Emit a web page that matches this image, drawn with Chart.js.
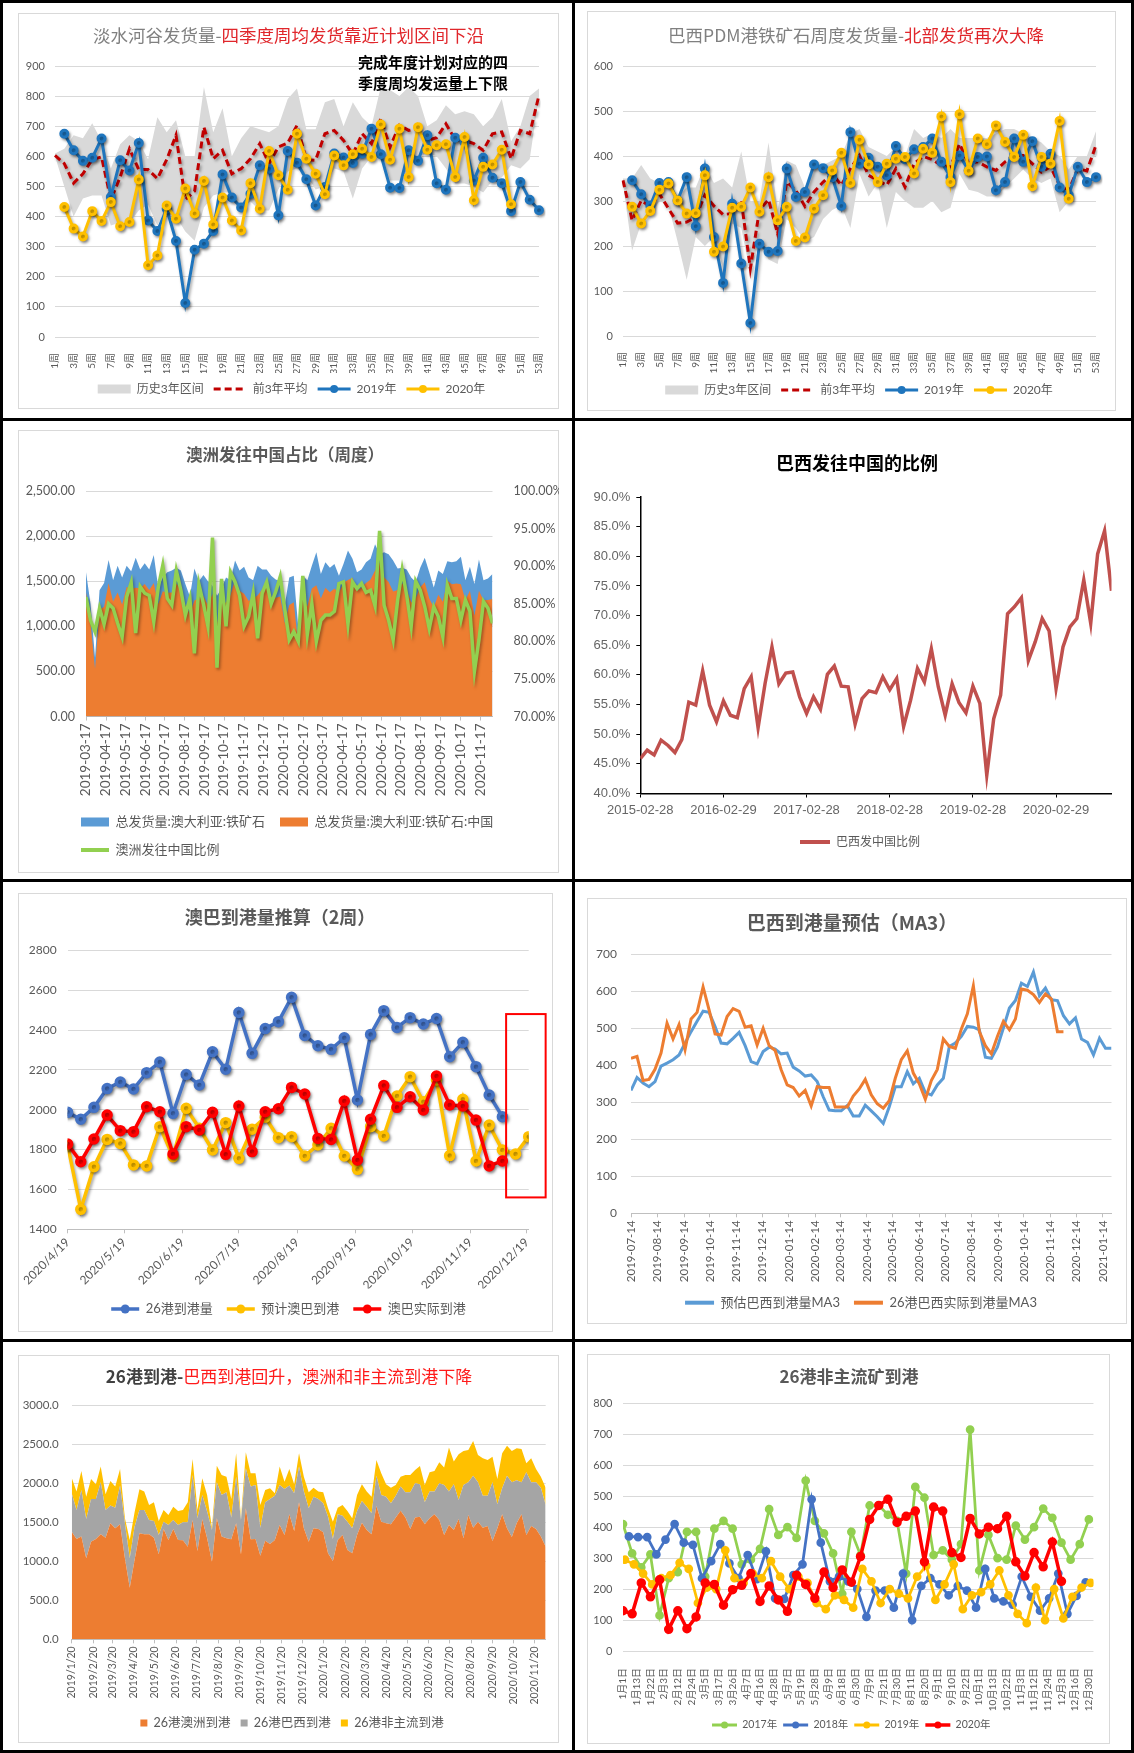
<!DOCTYPE html>
<html lang="zh-CN">
<head>
<meta charset="UTF-8">
<title>铁矿石发运与到港</title>
<script src="https://cdn.jsdelivr.net/npm/chart.js"></script>
<style>
  body { margin: 0; background: #fff; }
  #page { position: relative; width: 1134px; height: 1753px; overflow: hidden; background: #fff; }
  .rule { position: absolute; background: #000; }
  .frame { position: absolute; border: 1px solid #d9d9d9; box-sizing: border-box; }
  canvas { position: absolute; }
</style>
</head>
<body>
<div id="page"></div>
<script>
// ---------- data ----------
// 1. 淡水河谷发货量 (weeks 1..53)
const weekLabels = Array.from({ length: 53 }, (_, i) => (i + 1) + '周');
const valeBandLow = [600,500,400,460,470,470,370,380,380,420,440,370,430,400,350,320,430,470,480,480,430,450,420,420,490,550,560,540,490,500,560,550,460,560,600,620,520,520,560,600,610,600,560,510,510,500,480,520,530,570,560,590,800];
const valeBandHigh = [609,625,670,660,710,650,560,640,670,650,590,730,680,720,600,600,830,680,760,600,660,700,690,680,700,790,825,690,690,780,790,700,780,730,700,830,820,800,830,800,700,720,770,740,750,740,700,730,790,650,700,800,825];
const valeAvg3 = [603,576,511,542,589,598,456,531,625,556,556,526,589,670,456,485,697,592,620,542,559,592,642,576,631,644,703,589,587,675,686,653,607,675,642,725,631,703,686,692,653,662,708,655,653,642,620,675,681,592,686,675,803];
const vale2019 = [null,675,620,585,595,659,465,587,553,644,387,352,426,319,113,290,310,352,540,463,430,476,570,559,404,618,579,524,437,498,609,596,578,609,692,607,496,495,620,585,670,511,489,662,648,520,595,529,511,418,515,456,421];
const vale2020 = [null,432,360,334,418,385,448,368,382,523,238,271,437,393,493,410,518,374,463,387,354,511,426,618,537,489,675,592,542,474,603,570,607,625,598,706,589,692,531,697,622,637,640,531,664,454,565,573,622,441];

// 2. 巴西PDM港铁矿石周度发货量
const pdmBandLow = [340,190,250,270,300,290,210,125,220,200,220,150,250,240,140,210,170,160,260,240,210,220,260,280,290,240,360,310,340,240,320,300,285,285,300,275,285,360,325,320,310,310,330,350,370,350,340,350,275,300,370,360,410];
const pdmBandHigh = [350,350,380,350,340,345,310,330,330,380,340,350,330,410,300,300,430,280,390,380,330,380,380,390,400,450,460,420,410,400,420,400,460,440,450,440,460,440,440,440,440,450,460,460,450,440,430,410,400,370,400,400,455];
const pdmAvg3 = [346,257,301,287,316,283,251,253,264,313,289,270,272,301,150,280,303,227,342,324,288,320,342,361,335,372,401,357,346,335,372,331,383,399,392,379,376,427,383,387,376,368,387,401,401,383,364,376,335,324,372,367,424];
const pdm2019 = [null,346,315,290,340,342,301,353,244,372,220,118,294,161,29,205,187,189,372,309,320,381,373,353,289,453,383,396,376,357,422,393,415,420,439,387,353,401,368,398,399,324,342,439,387,433,376,405,330,313,376,342,353];
const pdm2020 = [null,287,250,278,325,339,301,272,273,357,187,199,285,287,330,276,353,257,287,211,219,283,313,368,407,340,436,381,342,383,394,398,361,416,407,488,342,493,367,439,426,468,431,398,447,333,398,383,478,305];

// 3. 澳洲发往中国占比 (weekly from 2019-03-17)
const ausTotal = [1600,1250,650,1400,1480,1736,1510,1670,1540,1670,1610,1760,1630,1700,1630,1790,1430,1540,1600,1620,1650,1620,1470,1330,1640,1500,1570,1500,1450,1340,1420,1540,1510,1730,1620,1660,1540,1510,1670,1630,1630,1560,1520,1500,1230,1540,1560,990,1560,1510,1670,1820,1580,1710,1650,1690,1560,1690,1840,1750,1600,1630,1710,1750,1910,1800,1820,1800,1730,1640,1650,1630,1540,1490,1650,1760,1600,1430,1620,1580,1720,1710,1720,1770,1510,1660,1470,1740,1510,1530,1580];
const ausChina = [1374,1035,528,1182,1218,1476,1275,1376,1241,1435,1414,1427,1423,1469,1403,1479,1247,1388,1371,1374,1475,1406,1227,1140,1286,1314,1335,1230,1360,1025,1254,1263,1347,1521,1395,1361,1283,1305,1343,1408,1433,1326,1316,1329,1037,1235,1267,792,1384,1221,1420,1456,1308,1428,1378,1420,1368,1486,1514,1538,1392,1430,1479,1519,1618,1705,1543,1490,1387,1402,1477,1403,1263,1311,1432,1489,1307,1210,1349,1273,1505,1465,1474,1466,1291,1394,1117,1395,1288,1291,1302];
const ausShare = [85.9,82.8,81.3,84.4,82.3,85.0,84.4,82.4,80.6,85.9,87.8,81.1,87.3,86.4,86.1,82.6,87.2,90.1,85.7,84.8,89.4,86.8,83.5,85.7,78.4,87.6,85.0,82.0,93.8,76.5,88.3,82.0,89.2,87.9,86.1,82.0,83.3,86.4,80.4,86.4,87.9,85.0,86.6,88.6,84.3,80.2,81.3,80.0,88.7,80.9,85.0,80.0,82.8,83.5,83.5,84.0,87.7,87.9,82.3,87.9,87.0,87.7,86.5,86.8,84.7,94.7,84.8,82.8,80.2,85.5,89.5,86.1,82.0,88.0,86.8,84.6,81.7,84.6,83.3,80.6,87.5,85.7,85.7,82.8,85.5,84.0,76.0,80.2,85.3,84.4,82.4];

// 4. 巴西发往中国的比例 (monthly, month-end from 2015-02)
const brShare = [45.9,47.3,46.5,49.0,48.1,46.9,49.1,55.4,54.9,60.7,54.9,52.1,55.6,53.2,52.8,57.7,59.7,51.1,58.5,64.7,58.5,60.3,60.5,56.3,53.5,56.3,54.2,60.1,61.5,58.1,58.0,51.7,56.0,57.3,57.0,59.7,57.5,59.4,51.3,55.7,61.1,58.8,64.4,58.0,53.2,58.5,55.3,53.6,58.1,55.2,43.1,52.6,56.6,70.3,71.5,73.0,62.4,65.6,69.5,67.4,57.7,64.7,68.1,69.5,76.0,68.7,80.4,84.3,74.2];

// 5. 澳巴到港量推算 (weekly from 2020-04-19)
const port26 = [1987,1952,2012,2106,2139,2104,2186,2239,1982,2177,2124,2291,2203,2488,2283,2407,2442,2564,2373,2321,2303,2361,2049,2378,2497,2413,2462,2430,2458,2266,2338,2216,2074,1965];
const abForecast = [1823,1500,1714,1851,1831,1723,1718,1915,1764,2007,1907,1798,1935,1756,1902,1962,1860,1865,1768,1823,1907,1768,1701,1915,1868,2069,2166,2040,2149,1770,2052,1743,1923,1798,1778,1865];
const abActual = [1828,1739,1853,1973,1895,1890,2015,1990,1778,1915,1898,1987,1776,2019,1790,1990,2005,2112,2079,1856,1851,2044,1748,1952,2121,2012,2065,1999,2169,2024,2019,1948,1718,1743];

// 6. 巴西到港量预估 MA3 (weekly from 2019-07-14)
const brEstMA3 = [332,367,352,342,356,398,406,415,428,460,491,519,546,543,505,460,458,473,489,453,410,404,437,449,444,431,433,395,385,371,374,356,315,279,277,277,291,263,263,292,277,261,243,288,342,342,383,350,365,326,320,347,365,451,460,478,505,503,496,422,419,449,501,555,575,622,613,652,588,609,577,575,534,512,528,471,462,428,473,446,446];
const brActMA3 = [419,424,359,362,389,433,514,471,510,442,525,543,612,550,485,482,532,553,546,503,507,455,500,453,440,388,347,340,317,332,290,342,340,340,287,287,287,317,336,362,320,296,284,304,365,415,439,379,350,308,359,389,471,451,446,498,539,615,491,453,431,478,519,496,525,606,603,591,570,593,579,491,491];

// 7. 26港到港 (weekly from 2019-01-20)
const arrAus = [1383,1289,1319,1040,1254,1289,1349,1306,1490,1426,1477,1040,664,1019,1361,1349,1349,1306,1092,1417,1276,1417,1276,1271,1190,1533,1134,1541,1297,997,1554,1319,1297,1284,1490,1092,1682,1284,1289,1075,1267,1224,1276,1468,1340,1605,1391,1759,1426,1254,1426,1417,1374,1105,1006,1276,1340,1147,1105,1340,1498,1404,1349,1712,1511,1490,1477,1563,1652,1563,1417,1563,1575,1477,1554,1605,1533,1340,1468,1404,1545,1297,1597,1434,1511,1434,1456,1263,1426,1605,1426,1314,1490,1605,1340,1456,1417,1319,1190];
const arrBra = [492,372,599,505,548,513,667,355,227,265,497,450,376,428,300,312,184,214,248,94,192,116,192,232,313,578,420,313,343,407,462,535,591,279,599,441,514,677,693,359,492,578,569,514,591,369,484,459,471,428,406,385,373,470,283,329,248,364,321,308,279,300,269,390,343,342,270,282,309,325,471,440,416,282,343,292,470,642,429,587,245,685,419,668,505,411,389,753,308,334,676,702,552,411,805,560,599,629,535];
const arrOther = [201,236,244,287,257,189,202,201,316,270,214,64,236,184,265,236,192,239,180,150,129,171,180,158,256,205,107,214,214,30,214,257,201,239,300,20,206,171,150,291,159,138,30,236,94,214,116,171,192,206,116,95,141,107,222,86,137,137,128,206,214,193,214,201,278,159,201,137,128,223,223,172,235,223,248,265,270,223,565,291,586,437,416,445,351,480,458,330,325,450,385,403,411,428,115,309,172,141,223];

// 8. 26港非主流矿到港 (weekly by year)
const dayLabels8 = ['1月1日','1月13日','1月22日','2月3日','2月12日','2月24日','3月5日','3月17日','3月26日','4月7日','4月16日','4月28日','5月7日','5月19日','5月28日','6月9日','6月18日','6月30日','7月9日','7月21日','7月30日','8月11日','8月20日','9月1日','9月10日','9月22日','10月1日','10月13日','10月22日','11月3日','11月12日','11月24日','12月3日','12月16日','12月30日'];
const minor2017 = [410,315,270,312,115,235,255,385,385,240,395,420,395,280,295,330,458,375,400,365,550,420,380,315,185,385,310,470,470,440,420,250,530,495,310,325,295,345,715,260,375,300,295,405,360,400,460,430,350,295,345,425];
const minor2018 = [370,368,368,312,360,410,350,343,235,290,345,283,235,310,232,322,170,168,245,280,490,350,225,240,225,200,110,195,195,140,250,100,210,235,215,180,210,195,140,265,170,160,150,240,175,130,170,250,120,178,222];
const minor2019 = [295,280,250,215,235,245,285,265,155,205,200,325,235,220,250,235,290,240,200,240,220,155,135,180,165,140,265,225,155,200,185,170,240,275,165,215,280,135,180,190,215,260,180,120,90,205,100,200,105,175,205,220];
const minor2020 = [130,120,220,175,230,70,130,72,110,220,215,148,198,212,250,160,210,165,128,245,215,170,255,205,262,222,305,425,470,490,415,435,452,288,465,452,318,302,428,378,400,395,435,288,242,318,272,352,225];
const weekShift8 = { y2017: 0, y2018: 0.65, y2019: 0.2, y2020: 0 };

// ---------- helpers ----------
const FONT = "Lato, 'Noto Sans CJK SC', sans-serif";
const CJK = "'Noto Sans CJK SC', sans-serif";
const GRID = '#d9d9d9';
const TXT = '#595959';

Chart.defaults.font.family = FONT;
Chart.defaults.color = TXT;
Chart.defaults.animation = false;
Chart.defaults.responsive = false;
Chart.defaults.plugins.tooltip.enabled = false;

const pad2 = n => String(n).padStart(2, '0');
const fmtDash = d => d.getUTCFullYear() + '-' + pad2(d.getUTCMonth() + 1) + '-' + pad2(d.getUTCDate());
const fmtSlash = d => d.getUTCFullYear() + '/' + (d.getUTCMonth() + 1) + '/' + d.getUTCDate();
function monthTicks(y, m, d, n, fmt) {
  const t0 = Date.UTC(y, m - 1, d);
  const out = [];
  for (let i = 0; i < n; i++) {
    const t = new Date(Date.UTC(y, m - 1 + i, d));
    out.push({ value: (t - t0) / 86400000, label: fmt(t) });
  }
  return out;
}
const weekly = (arr, shift) => arr.map((v, i) => ({ x: (shift || 0) + i * 7, y: v }));
const byWeek = (arr, shift) => arr.map((v, i) => ({ x: shift + i, y: v }));

const ticks3 = monthTicks(2019, 3, 17, 21, fmtDash);
const ticks5 = monthTicks(2020, 4, 19, 9, fmtSlash);
const ticks6 = monthTicks(2019, 7, 14, 19, fmtDash);
const ticks7 = monthTicks(2019, 1, 20, 23, fmtSlash);
const brMonthEnds = Array.from({ length: 69 }, (_, i) => fmtDash(new Date(Date.UTC(2015, 2 + i, 0))));

const page = document.getElementById('page');
function rule(x, y, w, h) {
  const d = document.createElement('div');
  d.className = 'rule';
  Object.assign(d.style, { left: x + 'px', top: y + 'px', width: w + 'px', height: h + 'px' });
  page.appendChild(d);
}
function panel(id, x, y, w, h, framed) {
  if (framed) {
    const f = document.createElement('div');
    f.className = 'frame';
    Object.assign(f.style, { left: x + 'px', top: y + 'px', width: w + 'px', height: h + 'px' });
    page.appendChild(f);
  }
  const c = document.createElement('canvas');
  c.id = id; c.width = w; c.height = h;
  Object.assign(c.style, { left: x + 'px', top: y + 'px', width: w + 'px', height: h + 'px' });
  page.appendChild(c);
  return c;
}

rule(0, 0, 1134, 3); rule(0, 1750, 1134, 3); rule(0, 0, 3, 1753); rule(1131, 0, 3, 1753);
rule(572, 0, 3, 1753); rule(0, 418, 1134, 3); rule(0, 879, 1134, 3); rule(0, 1339, 1134, 3);

// titles, notes, boxes and legend offsets for each canvas
const DECOR = {
  c1: { legendDx: 10, title: { y: 22, parts: [
      { text: '淡水河谷发货量-', color: '#808080', font: '17.5px ' + CJK },
      { text: '四季度周均发货靠近计划区间下沿', color: '#e0262b', font: '17.5px ' + CJK }] },
    notes: [
      { text: '完成年度计划对应的四', x: 340, y: 49, font: 'bold 15px ' + CJK, color: '#000' },
      { text: '季度周均发运量上下限', x: 340, y: 70, font: 'bold 15px ' + CJK, color: '#000' }] },
  c2: { legendDx: 9.75, title: { y: 24, x: 269, parts: [
      { text: '巴西PDM港铁矿石周度发货量-', color: '#808080', font: '17.5px ' + CJK },
      { text: '北部发货再次大降', color: '#e0262b', font: '17.5px ' + CJK }] } },
  c3: { legendDx: 48, title: { y: 25, x: 267, parts: [{ text: '澳洲发往中国占比（周度）', color: TXT, font: 'bold 16.5px ' + CJK }] } },
  c4: { legendDx: 16.25, title: { y: 40, x: 281, parts: [{ text: '巴西发往中国的比例', color: '#000', font: 'bold 18px ' + CJK }] } },
  c5: { legendDx: 15.15, title: { y: 24, x: 262, parts: [{ text: '澳巴到港量推算（2周）', color: TXT, font: 'bold 18px ' + CJK }] },
    box: { x0: 233, x1: 254, y0: 1560, y1: 2480, color: '#ff0000', width: 2 } },
  c6: { legendDx: 11.75, title: { y: 25, x: 265, parts: [{ text: '巴西到港量预估（MA3）', color: TXT, font: 'bold 19px ' + CJK }] } },
  c7: { legendDx: 10.15, title: { y: 22, x: 271, parts: [
      { text: '26港到港-', color: '#404040', font: 'bold 17px ' + CJK },
      { text: '巴西到港回升，澳洲和非主流到港下降', color: '#ff1a1a', font: '17px ' + CJK }] } },
  c8: { legendDx: 9.25, title: { y: 23, x: 262, parts: [{ text: '26港非主流矿到港', color: TXT, font: 'bold 17px ' + CJK }] } }
};

const decorPlugin = {
  id: 'decor',
  afterLayout(chart) {
    const d = DECOR[chart.canvas.id];
    if (d && d.legendDx && chart.legend) {
      chart.legend.left += d.legendDx;
      chart.legend.right += d.legendDx;
    }
  },
  afterDraw(chart) {
    const d = DECOR[chart.canvas.id];
    if (!d) return;
    const ctx = chart.ctx;
    ctx.save();
    ctx.textBaseline = 'middle';
    if (d.title) {
      const widths = d.title.parts.map(p => { ctx.font = p.font; return ctx.measureText(p.text).width; });
      const total = widths.reduce((a, b) => a + b, 0);
      let x = (d.title.x !== undefined ? d.title.x : chart.width / 2) - total / 2;
      ctx.textAlign = 'left';
      d.title.parts.forEach((p, i) => { ctx.font = p.font; ctx.fillStyle = p.color; ctx.fillText(p.text, x, d.title.y); x += widths[i]; });
    }
    (d.notes || []).forEach(n => { ctx.font = n.font; ctx.fillStyle = n.color; ctx.textAlign = 'left'; ctx.fillText(n.text, n.x, n.y); });
    if (d.box) {
      const xs = chart.scales.x, ys = chart.scales.y;
      const l = xs.getPixelForValue(d.box.x0), r = xs.getPixelForValue(d.box.x1);
      const t = ys.getPixelForValue(d.box.y1), b = ys.getPixelForValue(d.box.y0);
      ctx.strokeStyle = d.box.color; ctx.lineWidth = d.box.width;
      ctx.strokeRect(l, t, r - l, b - t);
    }
    ctx.restore();
  }
};

const shadowPlugin = {
  id: 'lineShadow',
  beforeDatasetDraw(chart, args) {
    if (!chart.data.datasets[args.index].shadow) return;
    const ctx = chart.ctx;
    ctx.save();
    ctx.shadowColor = 'rgba(0,0,0,0.35)';
    ctx.shadowBlur = 3; ctx.shadowOffsetX = 1.5; ctx.shadowOffsetY = 2;
  },
  afterDatasetDraw(chart, args) {
    if (chart.data.datasets[args.index].shadow) chart.ctx.restore();
  }
};

const samplePlugin = {
  id: 'legendSamples',
  afterDraw(chart) {
    const lg = chart.legend;
    if (!lg || !lg.options.display || !lg.legendHitBoxes) return;
    const ctx = chart.ctx;
    const bw = lg.options.labels.boxWidth;
    lg.legendItems.forEach((item, i) => {
      const hb = lg.legendHitBoxes[i];
      const s = chart.data.datasets[item.datasetIndex].sample;
      if (!hb || !s) return;
      const x0 = hb.left, cy = hb.top + hb.height / 2;
      ctx.save();
      if (s.kind === 'rect') {
        ctx.fillStyle = s.color;
        ctx.fillRect(x0, cy - s.h / 2, bw, s.h);
      } else {
        ctx.strokeStyle = s.color; ctx.lineWidth = s.width || 3;
        ctx.setLineDash(s.dash || []);
        ctx.beginPath(); ctx.moveTo(x0, cy); ctx.lineTo(x0 + bw, cy); ctx.stroke();
        if (s.marker) {
          ctx.setLineDash([]); ctx.fillStyle = s.color;
          ctx.beginPath(); ctx.arc(x0 + bw / 2, cy, s.marker, 0, Math.PI * 2); ctx.fill();
        }
      }
      ctx.restore();
    });
  }
};
const PLUGINS = [decorPlugin, shadowPlugin, samplePlugin];

function legend(size, boxWidth, padding, extra) {
  return Object.assign({
    position: 'bottom',
    labels: {
      font: { size, family: FONT }, color: TXT, boxWidth, padding,
      generateLabels(chart) {
        return Chart.defaults.plugins.legend.labels.generateLabels(chart)
          .filter(it => !chart.data.datasets[it.datasetIndex].noLegend)
          .sort((a, b) => a.datasetIndex - b.datasetIndex)
          .map(it => Object.assign(it, { fillStyle: 'rgba(0,0,0,0)', strokeStyle: 'rgba(0,0,0,0)', lineWidth: 0 }));
      }
    }
  }, extra || {});
}
function yAxis(min, max, step, width, pad, fmt, size, extra) {
  return Object.assign({
    min, max,
    ticks: { stepSize: step, padding: pad, color: TXT, font: { size: size || 11 }, callback: fmt },
    grid: { color: GRID, drawTicks: false },
    border: { display: false },
    afterFit: s => { s.width = width; }
  }, extra || {});
}
function dateAxis(max, tickList, height, size, rotation, pad) {
  return {
    type: 'linear', min: 0, max,
    afterBuildTicks: s => { s.ticks = tickList.map(t => ({ value: t.value })); },
    ticks: { autoSkip: false, minRotation: rotation, maxRotation: rotation, padding: pad, color: TXT,
      font: { size }, callback: (v, i) => tickList[i] ? tickList[i].label : '' },
    grid: { drawOnChartArea: false, drawTicks: true, tickLength: 4, color: '#bfbfbf' },
    border: { color: '#bfbfbf' },
    afterFit: s => { s.height = height; }
  };
}
function line(label, data, color, o) {
  return Object.assign({ label, data, borderColor: color, backgroundColor: color, borderWidth: 3,
    pointRadius: 0, pointHoverRadius: 0, fill: false, tension: 0 }, o || {});
}

// ---------- charts 1 & 2 ----------
function bandChart(id, box, labels, low, high, avg, s19, s20, ymax, lay) {
  const c = panel(id, box.x, box.y, box.w, box.h, true);
  new Chart(c, {
    type: 'line',
    data: {
      labels,
      datasets: [
        line('下沿', low, 'rgba(0,0,0,0)', { borderWidth: 0, noLegend: true, order: 5 }),
        line('历史3年区间', high, 'rgba(0,0,0,0)', { borderWidth: 0, backgroundColor: '#d9d9d9', fill: '-1', order: 5,
          sample: { kind: 'rect', color: '#d9d9d9', h: 9 } }),
        line('前3年平均', avg, '#c00000', { borderDash: [7, 4], order: 3, shadow: true,
          sample: { kind: 'line', color: '#c00000', width: 3, dash: [7, 4] } }),
        line('2019年', s19, '#1f75bd', { pointRadius: 3.5, order: 2, shadow: true,
          sample: { kind: 'line', color: '#1f75bd', width: 3, marker: 4 } }),
        line('2020年', s20, '#ffc000', { pointRadius: 3.5, order: 1, shadow: true,
          sample: { kind: 'line', color: '#ffc000', width: 3, marker: 4 } })
      ]
    },
    options: {
      devicePixelRatio: 1,
      layout: { padding: lay.pad },
      scales: {
        x: { grid: { display: false }, border: { display: false },
          ticks: { autoSkip: false, minRotation: 90, maxRotation: 90, padding: 8, color: TXT, font: { size: 10 },
            callback: (v, i) => i % 2 === 0 ? labels[i] : '' },
          afterFit: s => { s.height = lay.xh; } },
        y: yAxis(0, ymax, 100, lay.yw, 10, v => v, 11)
      },
      plugins: { legend: legend(12, 33, 10) }
    },
    plugins: PLUGINS
  });
}
bandChart('c1', { x: 18, y: 13, w: 541, h: 396 }, weekLabels, valeBandLow, valeBandHigh, valeAvg3, vale2019, vale2020, 900,
  { pad: { top: 53, left: 0, right: 14, bottom: 4 }, xh: 36, yw: 37 });
bandChart('c2', { x: 587, y: 11, w: 529, h: 400 }, weekLabels, pdmBandLow, pdmBandHigh, pdmAvg3, pdm2019, pdm2020, 600,
  { pad: { top: 55, left: 0, right: 4.5, bottom: 5 }, xh: 38, yw: 36 });

// ---------- chart 3 ----------
new Chart(panel('c3', 18, 430, 541, 443, true), {
  type: 'line',
  data: {
    datasets: [
      line('总发货量:澳大利亚:铁矿石', weekly(ausTotal), '#5b9bd5', { borderWidth: 0, fill: 'origin', order: 3,
        sample: { kind: 'rect', color: '#5b9bd5', h: 9 } }),
      line('总发货量:澳大利亚:铁矿石:中国', weekly(ausChina), '#ed7d31', { borderWidth: 0, fill: 'origin', order: 2,
        sample: { kind: 'rect', color: '#ed7d31', h: 9 } }),
      line('澳洲发往中国比例', weekly(ausShare), '#92d050', { borderWidth: 3.5, yAxisID: 'y1', order: 1, shadow: true,
        sample: { kind: 'line', color: '#92d050', width: 4 } })
    ]
  },
  options: {
    devicePixelRatio: 1,
    layout: { padding: { top: 61, left: 0, right: 0, bottom: 6.5 } },
    scales: {
      x: dateAxis(630, ticks3, 84, 13.5, 90, 3),
      y: yAxis(0, 2500, 500, 68, 11, v => v.toLocaleString('en-US', { minimumFractionDigits: 2, maximumFractionDigits: 2 }), 12.5),
      y1: yAxis(70, 100, 5, 66.5, 13, v => v.toFixed(2) + '%', 12.5, { position: 'right', grid: { display: false } })
    },
    plugins: { legend: legend(13, 28, 15, { align: 'start' }) }
  },
  plugins: PLUGINS
});

// ---------- chart 4 ----------
new Chart(panel('c4', 576, 423, 555, 455, false), {
  type: 'line',
  data: {
    datasets: [line('巴西发中国比例', brShare.map((v, i) => ({ x: i, y: v })), '#c0504d', { borderWidth: 3.5,
      sample: { kind: 'line', color: '#c0504d', width: 4 } })]
  },
  options: {
    devicePixelRatio: 1,
    layout: { padding: { top: 74, left: 0, right: 19.5, bottom: 20 } },
    scales: {
      x: { type: 'linear', min: 0, max: 68,
        afterBuildTicks: s => { s.ticks = [0, 12, 24, 36, 48, 60].map(v => ({ value: v })); },
        ticks: { autoSkip: false, minRotation: 0, maxRotation: 0, padding: 5, color: '#666',
          font: { family: "'Liberation Sans', sans-serif", size: 13 }, callback: v => brMonthEnds[v] },
        grid: { drawOnChartArea: false, drawTicks: true, tickLength: 4, color: '#000' },
        border: { color: '#000', width: 1.5 },
        afterFit: s => { s.height = 32.5; } },
      y: { min: 40, max: 90,
        ticks: { stepSize: 5, padding: 6, color: '#666', font: { family: "'Liberation Sans', sans-serif", size: 13 },
          callback: v => v.toFixed(1) + '%' },
        grid: { drawOnChartArea: false, drawTicks: true, tickLength: 4, color: '#000' },
        border: { color: '#000', width: 1.5 },
        afterFit: s => { s.width = 64.3; } }
    },
    plugins: { legend: legend(12, 30, 10) }
  },
  plugins: PLUGINS
});

// ---------- chart 5 ----------
new Chart(panel('c5', 18, 893, 535, 439, true), {
  type: 'line',
  data: {
    datasets: [
      line('26港到港量', weekly(port26), '#4472c4', { borderWidth: 3.5, pointRadius: 4, order: 3, shadow: true,
        sample: { kind: 'line', color: '#4472c4', width: 3.5, marker: 4.5 } }),
      line('预计澳巴到港', weekly(abForecast), '#ffc000', { borderWidth: 3.5, pointRadius: 4, order: 2, shadow: true,
        sample: { kind: 'line', color: '#ffc000', width: 3.5, marker: 4.5 } }),
      line('澳巴实际到港', weekly(abActual), '#ff0000', { borderWidth: 3.5, pointRadius: 4, order: 1, shadow: true,
        sample: { kind: 'line', color: '#ff0000', width: 3.5, marker: 4.5 } })
    ]
  },
  options: {
    devicePixelRatio: 1,
    layout: { padding: { top: 57.3, left: 0, right: 24.3, bottom: 6.5 } },
    scales: {
      x: dateAxis(245, ticks5, 59.2, 12, 45, 2),
      y: yAxis(1400, 2800, 200, 49.6, 11, v => v, 12)
    },
    plugins: { legend: legend(13, 28, 14) }
  },
  plugins: PLUGINS
});

// ---------- chart 6 ----------
new Chart(panel('c6', 587, 898, 540, 426, true), {
  type: 'line',
  data: {
    datasets: [
      line('预估巴西到港量MA3', weekly(brEstMA3), '#5b9bd5', { order: 2,
        sample: { kind: 'line', color: '#5b9bd5', width: 4 } }),
      line('26港巴西实际到港量MA3', weekly(brActMA3), '#ed7d31', { order: 1,
        sample: { kind: 'line', color: '#ed7d31', width: 4 } })
    ]
  },
  options: {
    devicePixelRatio: 1,
    layout: { padding: { top: 56.3, left: 0, right: 15.5, bottom: 4.8 } },
    scales: {
      x: dateAxis(560, ticks6, 68.9, 11.5, 90, 3),
      y: yAxis(0, 700, 100, 44, 14, v => v, 12)
    },
    plugins: { legend: legend(13, 29, 14) }
  },
  plugins: PLUGINS
});

// ---------- chart 7 ----------
new Chart(panel('c7', 18, 1355, 541, 388, true), {
  type: 'line',
  data: {
    datasets: [
      line('26港澳洲到港', weekly(arrAus), '#ed7d31', { borderWidth: 0, fill: 'origin',
        sample: { kind: 'rect', color: '#ed7d31', h: 7 } }),
      line('26港巴西到港', weekly(arrBra), '#a5a5a5', { borderWidth: 0, fill: '-1',
        sample: { kind: 'rect', color: '#a5a5a5', h: 7 } }),
      line('26港非主流到港', weekly(arrOther), '#ffc000', { borderWidth: 0, fill: '-1',
        sample: { kind: 'rect', color: '#ffc000', h: 7 } })
    ]
  },
  options: {
    devicePixelRatio: 1,
    layout: { padding: { top: 50.7, left: 0, right: 13.3, bottom: 3.75 } },
    scales: {
      x: dateAxis(686, ticks7, 67.4, 10.5, 90, 3),
      y: yAxis(0, 3000, 500, 53.7, 13, v => v.toFixed(1), 11.5, { stacked: true })
    },
    plugins: { legend: legend(12.5, 7, 10) }
  },
  plugins: PLUGINS
});

// ---------- chart 8 ----------
new Chart(panel('c8', 587, 1354, 523, 390, true), {
  type: 'line',
  data: {
    datasets: [
      line('2017年', byWeek(minor2017, weekShift8.y2017), '#92d050', { borderWidth: 2.75, pointRadius: 3, order: 4,
        sample: { kind: 'line', color: '#92d050', width: 3, marker: 3.5 } }),
      line('2018年', byWeek(minor2018, weekShift8.y2018), '#4472c4', { borderWidth: 2.75, pointRadius: 3, order: 3,
        sample: { kind: 'line', color: '#4472c4', width: 3, marker: 3.5 } }),
      line('2019年', byWeek(minor2019, weekShift8.y2019), '#ffc000', { borderWidth: 2.75, pointRadius: 3, order: 2,
        sample: { kind: 'line', color: '#ffc000', width: 3, marker: 3.5 } }),
      line('2020年', byWeek(minor2020, weekShift8.y2020), '#ff0000', { borderWidth: 3.5, pointRadius: 3, order: 1,
        sample: { kind: 'line', color: '#ff0000', width: 3.5, marker: 3.5 } })
    ]
  },
  options: {
    devicePixelRatio: 1,
    layout: { padding: { top: 49.3, left: 0, right: 13, bottom: 3.75 } },
    scales: {
      x: { type: 'linear', min: 0, max: 51.5,
        afterBuildTicks: s => { s.ticks = dayLabels8.map((_, j) => ({ value: j * 1.5 })); },
        ticks: { autoSkip: false, minRotation: 90, maxRotation: 90, padding: 9, color: TXT, font: { size: 10 },
          callback: (v, i) => dayLabels8[i] },
        grid: { display: false }, border: { display: false },
        afterFit: s => { s.height = 62.75; } },
      y: yAxis(0, 800, 100, 36, 10.6, v => v, 11)
    },
    plugins: { legend: legend(10.5, 25, 6) }
  },
  plugins: PLUGINS
});
</script>
</body>
</html>
